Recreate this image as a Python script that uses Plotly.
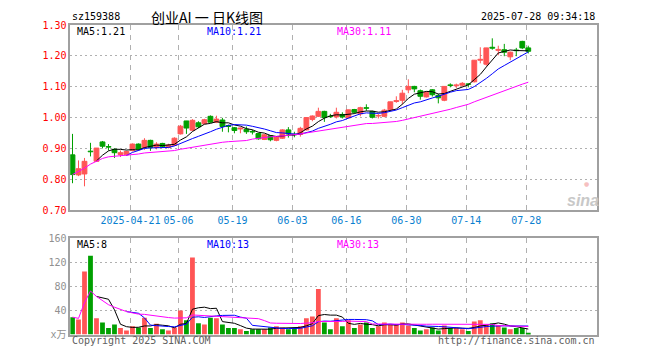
import plotly.graph_objects as go

# ---------------- data ----------------
opens = [0.879, 0.814, 0.817, 0.891, 0.858, 0.921, 0.906, 0.897, 0.880, 0.879,
         0.893, 0.914, 0.903, 0.926, 0.903, 0.916, 0.903, 0.910, 0.947, 0.989,
         0.959, 0.983, 0.980, 1.004, 0.985, 0.992, 0.974, 0.967, 0.963, 0.962,
         0.955, 0.948, 0.929, 0.941, 0.926, 0.933, 0.960, 0.946, 0.945, 0.960,
         0.994, 1.004, 1.020, 1.004, 1.002, 1.010, 0.999, 1.026, 1.012, 1.032,
         1.020, 1.005, 1.004, 1.025, 1.052, 1.056, 1.090, 1.101, 1.087, 1.067,
         1.090, 1.072, 1.056, 1.106, 1.103, 1.105, 1.109, 1.116, 1.186, 1.173,
         1.228, 1.218, 1.220, 1.197, 1.219, 1.247, 1.226]
highs = [0.947, 0.861, 0.869, 0.918, 0.901, 0.924, 0.914, 0.900, 0.893, 0.892,
         0.916, 0.916, 0.933, 0.928, 0.920, 0.918, 0.915, 0.936, 0.976, 0.989,
         0.995, 0.988, 0.996, 1.007, 1.006, 0.999, 0.977, 0.969, 0.968, 0.971,
         0.960, 0.950, 0.946, 0.943, 0.938, 0.962, 0.969, 0.954, 0.970, 1.000,
         1.007, 1.032, 1.022, 1.012, 1.032, 1.017, 1.025, 1.028, 1.035, 1.043,
         1.022, 1.012, 1.028, 1.051, 1.069, 1.090, 1.124, 1.103, 1.091, 1.085,
         1.092, 1.077, 1.101, 1.111, 1.110, 1.115, 1.111, 1.186, 1.228, 1.226,
         1.257, 1.233, 1.239, 1.214, 1.226, 1.249, 1.233]
lows = [0.787, 0.810, 0.777, 0.874, 0.857, 0.900, 0.893, 0.869, 0.872, 0.876,
        0.890, 0.894, 0.895, 0.892, 0.897, 0.902, 0.900, 0.908, 0.945, 0.947,
        0.957, 0.966, 0.978, 0.983, 0.982, 0.954, 0.952, 0.949, 0.949, 0.947,
        0.945, 0.928, 0.927, 0.923, 0.923, 0.931, 0.935, 0.936, 0.938, 0.958,
        0.988, 1.002, 0.986, 0.999, 0.997, 0.997, 0.997, 1.013, 1.004, 1.022,
        0.997, 0.997, 1.001, 1.023, 1.048, 1.043, 1.079, 1.082, 1.058, 1.065,
        1.068, 1.046, 1.053, 1.098, 1.096, 1.101, 1.098, 1.114, 1.176, 1.168,
        1.220, 1.202, 1.199, 1.186, 1.199, 1.222, 1.208]
closes = [0.815, 0.834, 0.858, 0.889, 0.901, 0.907, 0.904, 0.886, 0.886, 0.890,
          0.914, 0.897, 0.926, 0.903, 0.914, 0.905, 0.911, 0.933, 0.972, 0.966,
          0.991, 0.970, 0.993, 0.985, 0.995, 0.971, 0.971, 0.958, 0.966, 0.954,
          0.953, 0.931, 0.944, 0.928, 0.937, 0.960, 0.947, 0.944, 0.965, 1.000,
          1.005, 1.020, 1.000, 1.003, 1.017, 1.002, 1.025, 1.017, 1.032, 1.030,
          1.001, 1.007, 1.024, 1.051, 1.055, 1.079, 1.101, 1.093, 1.069, 1.082,
          1.074, 1.064, 1.101, 1.104, 1.106, 1.111, 1.108, 1.186, 1.189, 1.226,
          1.225, 1.221, 1.212, 1.212, 1.217, 1.226, 1.215]
volumes = [29, 25, 105, 131, 27, 20, 11, 17, 11, 7,
           14, 12, 28, 11, 18, 9, 7, 12, 40, 24,
           128, 19, 17, 28, 27, 17, 11, 11, 9, 6,
           9, 9, 9, 12, 14, 12, 9, 11, 14, 27,
           30, 76, 20, 9, 27, 14, 24, 11, 17, 20,
           11, 14, 20, 17, 17, 20, 15, 11, 7, 9,
           12, 7, 15, 11, 11, 9, 6, 22, 24, 17,
           19, 15, 12, 9, 11, 11, 3]
tick_index = [10, 18, 27, 37, 46, 56, 66, 76]
tick_labels = ["2025-04-21", "05-06", "05-19", "06-03", "06-16", "06-30", "07-14", "07-28"]
price_ticks = [0.70, 0.80, 0.90, 1.00, 1.10, 1.20, 1.30]
vol_ticks = [0, 40, 80, 120, 160]
vol_tick_text = ["x万", "40", "80", "120", "160"]

# ---------------- helpers ----------------
W, H = 660, 360
def px(x): return x / W
def py(y): return 1 - y / H

def moving_avg(vals, n, expanding=False):
    out = []
    for i in range(len(vals)):
        if i >= n - 1:
            seg = vals[i - n + 1:i + 1]
            out.append(sum(seg) / n)
        elif expanding:
            seg = vals[:i + 1]
            out.append(sum(seg) / len(seg))
        else:
            out.append(None)
    return out

RED = "#FF5555"
GREEN = "#00A000"
N = len(closes)
xs = list(range(N))
up = [c >= o for o, c in zip(opens, closes)]
colors = [RED if u else GREEN for u in up]

fig = go.Figure()

# wicks
for col, flag in ((RED, True), (GREEN, False)):
    wx, wy = [], []
    for i in xs:
        if up[i] == flag:
            wx += [i, i, None]
            wy += [lows[i], highs[i], None]
    fig.add_trace(go.Scatter(x=wx, y=wy, mode="lines", line=dict(color=col, width=1),
                             xaxis="x", yaxis="y", hoverinfo="skip", showlegend=False))

# bodies
fig.add_trace(go.Bar(x=xs, base=[min(o, c) for o, c in zip(opens, closes)],
                     y=[abs(c - o) for o, c in zip(opens, closes)], width=0.8,
                     marker=dict(color=colors, line=dict(color=colors, width=1)),
                     xaxis="x", yaxis="y", hoverinfo="skip", showlegend=False))

# price MAs
for n, col, exp in ((5, "black", False), (10, "#0000FF", False), (30, "#FF00FF", True)):
    fig.add_trace(go.Scatter(x=xs, y=moving_avg(closes, n, exp), mode="lines",
                             line=dict(color=col, width=1), xaxis="x", yaxis="y",
                             hoverinfo="skip", showlegend=False, connectgaps=False))

# volume bars
fig.add_trace(go.Bar(x=xs, y=volumes, width=0.8, marker=dict(color=colors, line=dict(width=0)),
                     xaxis="x2", yaxis="y2", hoverinfo="skip", showlegend=False))
for n, col, exp in ((5, "black", False), (10, "#0000FF", False), (30, "#FF00FF", True)):
    fig.add_trace(go.Scatter(x=xs, y=moving_avg(volumes, n, exp), mode="lines",
                             line=dict(color=col, width=1), xaxis="x2", yaxis="y2",
                             hoverinfo="skip", showlegend=False))

xr = [-0.367, 87.46]
tickpos = [i - 0.33 for i in tick_index]
mono = "DejaVu Sans Mono"
axis_common = dict(showline=True, linecolor="#A0A0A0", linewidth=1.5, mirror=True,
                   zeroline=False, ticks="", fixedrange=True)

fig.update_layout(
    width=W, height=H, margin=dict(l=0, r=0, t=0, b=0),
    paper_bgcolor="white", plot_bgcolor="white", showlegend=False,
    xaxis=dict(domain=[px(70.3), px(597)], range=xr, tickmode="array",
               tickvals=tickpos, ticktext=tick_labels, showgrid=True,
               gridcolor="#B0B0B0", griddash="5px,5px", gridwidth=1,
               tickfont=dict(family=mono, size=10, color="#0A7FD0"), anchor="y",
               **axis_common),
    yaxis=dict(domain=[py(211.5), py(20.7)], range=[0.70, 1.30], tickmode="array",
               tickvals=price_ticks, ticktext=[f"{v:.2f}" for v in price_ticks],
               showgrid=True, gridcolor="#B0B0B0", griddash="2px,3px", gridwidth=1,
               tickfont=dict(family=mono, size=10, color="#FF0000"), anchor="x",
               **axis_common),
    xaxis2=dict(domain=[px(70.3), px(597)], range=xr, tickmode="array",
                tickvals=tickpos, showticklabels=False, showgrid=True,
                gridcolor="#B0B0B0", griddash="5px,5px", gridwidth=1, anchor="y2",
                **axis_common),
    yaxis2=dict(domain=[py(340), py(240.7)], range=[0, 160], tickmode="array",
                tickvals=vol_ticks, ticktext=vol_tick_text, showgrid=True,
                gridcolor="#B0B0B0", griddash="2px,3px", gridwidth=1,
                tickfont=dict(family=mono + ", Noto Sans CJK SC", size=10, color="#909090"),
                anchor="x2", **axis_common),
)

def note(text, x, y, anchor="left", size=10, color="black", family=mono, **kw):
    fig.add_annotation(text=text, x=px(x), y=py(y), xref="paper", yref="paper",
                       xanchor=anchor, yanchor="middle", showarrow=False,
                       font=dict(family=family, size=size, color=color, **kw))

note("sz159388", 69.5, 12)
note("创业AI 一 日K线图", 206.5, 12, anchor="center", size=14,
     family="Noto Sans CJK SC")
note("2025-07-28 09:34:18", 597, 12, anchor="right")
note("MA5:1.21", 74.5, 27)
note("MA10:1.21", 205, 27, color="#0000FF")
note("MA30:1.11", 335, 27, color="#FF00FF")
note("MA5:8", 74.5, 247)
note("MA10:13", 204.5, 247, color="#0000FF")
note("MA30:13", 335, 247, color="#FF00FF")
note("Copyright 2025 SINA.COM", 70, 346, color="#606060")
note("http://finance.sina.com.cn", 597, 346, anchor="right", color="#606060")
note("sina", 583, 202, anchor="center", size=16, color="#C8C8C8",
     family="Liberation Sans", style="italic", weight="bold")
note("●", 586, 184, anchor="center", size=6, color="#F6C0C0", family="DejaVu Sans")

fig.write_html("out.html")
